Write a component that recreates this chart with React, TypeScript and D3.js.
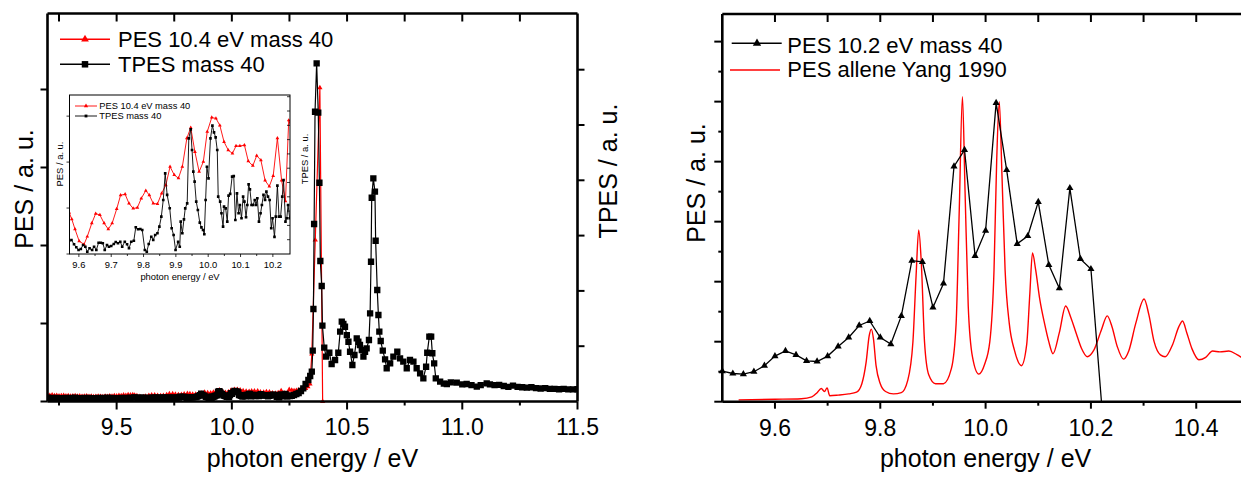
import React, { useEffect } from "react";
import * as d3 from "d3";

type Pt = [number, number];

// left panel: PES at 10.4 eV, mass 40 (red). values in inset units,
// the main axis is a wider window on the same numbers
const pes104: Pt[] = [
  [9.2, 0.9], [9.21, 0.7], [9.22, 0.8], [9.23, 0.6], [9.24, 0.7], [9.25, 0.5], [9.26, 0.6], [9.27, 0.7],
  [9.28, 0.5], [9.29, 0.6], [9.3, 0.4], [9.31, 0.5], [9.32, 0.6], [9.33, 0.4], [9.34, 0.5], [9.35, 0.3],
  [9.36, 0.4], [9.37, 0.5], [9.38, 0.3], [9.39, 0.4], [9.4, 0.2], [9.41, 0.3], [9.42, 0.4], [9.43, 0.3],
  [9.44, 0.2], [9.45, 0.4], [9.46, 0.3], [9.47, 0.5], [9.48, 0.4], [9.49, 0.6], [9.5, 0.5], [9.51, 0.7],
  [9.52, 0.6], [9.53, 0.8], [9.54, 0.7], [9.55, 0.9], [9.56, 0.8], [9.57, 0.9],
  [9.578, 0.76], [9.588, 0.54], [9.601, 0.28], [9.616, 0.21], [9.626, 0.38], [9.64, 0.67], [9.652, 0.88],
  [9.665, 0.85], [9.678, 0.67], [9.691, 0.54], [9.703, 0.67], [9.717, 0.98], [9.729, 1.28], [9.743, 1.3],
  [9.755, 1.1], [9.768, 0.99], [9.781, 1.01], [9.793, 1.21], [9.807, 1.38], [9.818, 1.28], [9.83, 1.1],
  [9.843, 1.09], [9.856, 1.32], [9.869, 1.5], [9.882, 1.9], [9.895, 1.72], [9.908, 1.65], [9.92, 1.9],
  [9.934, 2.52], [9.946, 2.75], [9.959, 2.22], [9.972, 1.79], [9.985, 2.01], [9.997, 2.66], [10.011, 2.97],
  [10.024, 2.95], [10.036, 2.8], [10.049, 2.44], [10.062, 2.26], [10.075, 2.19], [10.086, 2.35],
  [10.098, 2.35], [10.112, 2.37], [10.124, 2.02], [10.138, 1.92], [10.15, 2.14], [10.163, 2.04],
  [10.176, 1.6], [10.189, 1.47], [10.201, 1.7], [10.214, 2.52], [10.227, 1.6], [10.239, 1.15],
  [10.249, 2.91], [10.26, 2.7], [10.27, 2.5], [10.28, 2.6], [10.29, 2.8], [10.3, 3.0], [10.31, 3.0],
  [10.32, 3.4], [10.33, 4.0], [10.339, 5.1], [10.347, 16.6], [10.362, 60.3], [10.382, 118.6], [10.394, -1.63],
];

// left panel: TPES mass 40 (black), inset TPES units
const tpes40: Pt[] = [
  [9.2, 4.6], [9.22, 4.3], [9.24, 4.5], [9.26, 4.2], [9.28, 4.4], [9.3, 4.3], [9.32, 4.6], [9.34, 4.2],
  [9.36, 4.4], [9.38, 4.5], [9.4, 4.2], [9.42, 4.4], [9.44, 4.3], [9.46, 4.6], [9.48, 4.4], [9.5, 4.2],
  [9.52, 4.5], [9.54, 4.3], [9.56, 4.6],
  [9.577, 4.98], [9.585, 4.68], [9.592, 4.47], [9.599, 4.28], [9.606, 4.35], [9.613, 4.63], [9.62, 4.51],
  [9.626, 4.16], [9.633, 4.4], [9.641, 4.28], [9.647, 4.51], [9.654, 4.28], [9.661, 4.79], [9.668, 4.79],
  [9.674, 4.75], [9.68, 4.28], [9.687, 4.63], [9.693, 4.51], [9.7, 4.56], [9.708, 4.7], [9.714, 4.84],
  [9.721, 4.75], [9.728, 4.86], [9.734, 4.51], [9.742, 4.86], [9.749, 4.68], [9.755, 4.4], [9.762, 4.86],
  [9.77, 4.93], [9.776, 5.87], [9.783, 5.73], [9.79, 5.75], [9.796, 5.68], [9.804, 4.28], [9.81, 4.16],
  [9.816, 4.7], [9.824, 5.21], [9.83, 4.98], [9.836, 5.33], [9.843, 5.45], [9.849, 5.91], [9.855, 6.61],
  [9.861, 7.78], [9.867, 9.64], [9.873, 8.13], [9.881, 7.2], [9.887, 5.8], [9.893, 5.33], [9.899, 4.28],
  [9.907, 4.86], [9.912, 4.51], [9.915, 6.26], [9.92, 5.45], [9.925, 6.42], [9.929, 7.19], [9.935, 7.54],
  [9.94, 12.09], [9.946, 12.72], [9.95, 11.27], [9.954, 9.76], [9.958, 9.06], [9.963, 7.66], [9.968, 7.08],
  [9.974, 6.19], [9.979, 5.86], [9.984, 5.68], [9.988, 5.38], [9.992, 7.78], [9.996, 10.1], [10.001, 9.29],
  [10.007, 12.09], [10.013, 12.98], [10.018, 12.51], [10.023, 12.16], [10.028, 11.27], [10.031, 8.01],
  [10.037, 7.66], [10.041, 6.85], [10.046, 5.91], [10.049, 7.31], [10.054, 7.19], [10.059, 6.26],
  [10.063, 8.08], [10.068, 8.2], [10.074, 9.41], [10.079, 9.45], [10.084, 6.38], [10.089, 8.24],
  [10.094, 6.85], [10.098, 7.43], [10.103, 6.5], [10.108, 8.01], [10.112, 7.66], [10.117, 6.57],
  [10.121, 7.43], [10.125, 8.87], [10.129, 8.52], [10.134, 7.43], [10.139, 7.43], [10.144, 7.78],
  [10.148, 7.43], [10.152, 7.9], [10.157, 6.26], [10.162, 6.85], [10.166, 7.43], [10.171, 8.13],
  [10.176, 7.78], [10.18, 8.36], [10.185, 8.01], [10.19, 7.78], [10.195, 5.8], [10.199, 6.5], [10.205, 5.2],
  [10.209, 6.61], [10.214, 8.78], [10.219, 6.61], [10.224, 6.61], [10.229, 8.01], [10.233, 9.17],
  [10.239, 6.26], [10.243, 6.5], [10.247, 7.43], [10.252, 6.5],
  [10.26, 6.8], [10.27, 8.0], [10.28, 9.2], [10.29, 10.4], [10.3, 12.9], [10.31, 16.2], [10.32, 21.5],
  [10.332, 26.4], [10.34, 31.3], [10.347, 36.6], [10.351, 62.4], [10.354, 113.6], [10.357, 217.9],
  [10.361, 355.8], [10.368, 415.2], [10.375, 354.6], [10.38, 268.6], [10.384, 172.5], [10.39, 141.8],
  [10.393, 93.1], [10.401, 66.1], [10.409, 55.0], [10.423, 59.9], [10.433, 46.0], [10.448, 51.0],
  [10.462, 59.9], [10.47, 85.7], [10.477, 98.0], [10.484, 95.2], [10.491, 91.8], [10.499, 81.6],
  [10.506, 73.4], [10.513, 61.1], [10.523, 44.8], [10.532, 57.1], [10.542, 77.6], [10.549, 73.4],
  [10.556, 69.4], [10.564, 63.2], [10.571, 55.0], [10.578, 61.1], [10.585, 65.3], [10.595, 75.5],
  [10.6, 108.3], [10.604, 171.6], [10.607, 250.2], [10.614, 274.0], [10.621, 257.6], [10.624, 197.4],
  [10.631, 136.9], [10.636, 106.2], [10.64, 85.7], [10.646, 74.3], [10.655, 62.4], [10.665, 51.8],
  [10.672, 40.8], [10.687, 46.9], [10.701, 55.0], [10.718, 61.1], [10.73, 53.0], [10.744, 48.9],
  [10.759, 40.8], [10.773, 51.0], [10.788, 48.9], [10.802, 40.8], [10.817, 34.6], [10.831, 28.5],
  [10.843, 42.7], [10.848, 59.9], [10.857, 79.6], [10.865, 79.6], [10.87, 59.2], [10.878, 46.9],
  [10.885, 28.5], [10.904, 24.3], [10.92, 22.0], [10.933, 21.5], [10.95, 23.5], [10.976, 23.1],
  [11.0, 21.0], [11.019, 21.5], [11.04, 20.0], [11.063, 18.2], [11.08, 20.0], [11.106, 22.3],
  [11.12, 21.0], [11.14, 20.0], [11.16, 20.5], [11.18, 19.0], [11.2, 18.0], [11.22, 19.5], [11.24, 18.0],
  [11.26, 17.5], [11.28, 17.0], [11.3, 17.5], [11.32, 16.5], [11.34, 16.0], [11.36, 16.5], [11.38, 15.5],
  [11.4, 15.5], [11.42, 15.0], [11.44, 15.5], [11.46, 14.8], [11.48, 14.8], [11.5, 15.0],
];

// right panel: PES at 10.2 eV, mass 40 (black triangles)
const pes102: Pt[] = [
  [9.5, 0.51], [9.52, 0.47], [9.54, 0.46], [9.56, 0.5], [9.58, 0.6], [9.6, 0.76], [9.62, 0.845],
  [9.64, 0.78], [9.66, 0.68], [9.68, 0.67], [9.7, 0.76], [9.72, 0.92], [9.74, 1.07], [9.76, 1.27],
  [9.78, 1.345], [9.8, 1.07], [9.82, 0.96], [9.84, 1.43], [9.86, 2.35], [9.88, 2.33], [9.9, 1.57],
  [9.92, 1.97], [9.94, 3.92], [9.96, 4.195], [9.98, 2.43], [10.0, 2.85], [10.02, 4.98], [10.04, 3.86],
  [10.06, 2.63], [10.08, 2.76], [10.1, 3.33], [10.12, 2.28], [10.14, 1.89], [10.16, 3.56], [10.18, 2.38],
  [10.2, 2.21], [10.22, 0],
];

// right panel: PES of allene, Yang 1990 (red line)
const pesYang1990: Pt[] = [
  [9.531, 0.03], [9.6, 0.04], [9.65, 0.05], [9.67, 0.08], [9.68, 0.15], [9.688, 0.22], [9.694, 0.17],
  [9.699, 0.23], [9.704, 0.1], [9.72, 0.11], [9.74, 0.13], [9.755, 0.16], [9.765, 0.3], [9.773, 0.65],
  [9.779, 1.1], [9.783, 1.21], [9.787, 1.05], [9.792, 0.6], [9.8, 0.3], [9.81, 0.17], [9.825, 0.13],
  [9.84, 0.15], [9.852, 0.35], [9.862, 1.0], [9.868, 2.1], [9.873, 2.86], [9.878, 2.3], [9.884, 1.0],
  [9.892, 0.45], [9.905, 0.3], [9.92, 0.3], [9.935, 0.55], [9.944, 1.3], [9.95, 3.2], [9.956, 5.08],
  [9.961, 3.5], [9.967, 1.6], [9.975, 0.75], [9.987, 0.46], [9.998, 0.62], [10.008, 1.0], [10.016, 2.2],
  [10.021, 4.0], [10.026, 5.0], [10.031, 3.8], [10.037, 2.2], [10.045, 1.3], [10.055, 0.85], [10.068, 0.6],
  [10.078, 0.95], [10.084, 1.8], [10.089, 2.48], [10.095, 2.2], [10.103, 1.7], [10.112, 1.3], [10.12, 1.0],
  [10.128, 0.8], [10.14, 1.15], [10.152, 1.595], [10.162, 1.4], [10.172, 1.14], [10.182, 0.89],
  [10.193, 0.75], [10.205, 0.85], [10.22, 1.2], [10.231, 1.43], [10.24, 1.25], [10.25, 0.92], [10.262, 0.71],
  [10.272, 0.85], [10.285, 1.3], [10.301, 1.71], [10.31, 1.45], [10.32, 1.0], [10.332, 0.78], [10.341, 0.75],
  [10.355, 0.95], [10.367, 1.25], [10.374, 1.345], [10.382, 1.15], [10.392, 0.88], [10.405, 0.7],
  [10.418, 0.74], [10.431, 0.845], [10.445, 0.83], [10.462, 0.845], [10.478, 0.78], [10.49, 0.72], [10.5, 0.7],
];

const leftXTicks = [9.5, 10.0, 10.5, 11.0, 11.5];
const rightXTicks = [9.6, 9.8, 10.0, 10.2, 10.4];
const insetXTicks = [9.6, 9.7, 9.8, 9.9, 10.0, 10.1, 10.2];

const FONT = "'Liberation Sans', Arial, Helvetica, sans-serif";
const RED = "#ff0000";
const fmt = d3.format(".1f");

function Series({ data, x, y, color, symbol, size, width, clip, curve }: any) {
  const line = d3
    .line<Pt>()
    .x((d) => x(d[0]))
    .y((d) => y(d[1]))
    .curve(curve || d3.curveLinear);
  const sym = symbol ? d3.symbol().type(symbol).size(size)() : null;
  return (
    <g clipPath={clip}>
      <path d={line(data) || ""} fill="none" stroke={color} strokeWidth={width} strokeLinejoin="round" />
      {sym &&
        data.map((d: Pt, i: number) => (
          <path key={i} d={sym} transform={`translate(${x(d[0])},${y(d[1])})`} fill={color} />
        ))}
    </g>
  );
}

export default function App() {
  useEffect(() => {
    document.body.style.margin = "0";
  }, []);

  // left panel
  const L = { x0: 47.5, x1: 577.5, y0: 13.5, y1: 401.5 };
  const xL = d3.scaleLinear().domain([9.2, 11.5]).range([L.x0, L.x1]);
  const yPes = d3.scaleLinear().domain([-1.63, 147.1]).range([L.y1, L.y0]);
  const yTpes = d3.scaleLinear().domain([0, 476.4]).range([L.y1, L.y0]);
  const pesTicks = d3.range(5).map((k) => -1.63 + 29.9 * k);
  const tpesTicks = d3.range(1, 7).map((k) => 67.9 * k);

  // inset
  const I = { x0: 69.5, x1: 290, y0: 95, y1: 254 };
  const xI = d3.scaleLinear().domain([9.571, 10.253]).range([I.x0, I.x1]);
  const yIPes = d3.scaleLinear().domain([0, 3.46]).range([I.y1, I.y0]);
  const yITpes = d3.scaleLinear().domain([4.0, 15.12]).range([I.y1, I.y0]);
  const insetPes = pes104.filter((d) => d[0] > 9.55 && d[0] < 10.27);
  const insetTpes = tpes40.filter((d) => d[0] > 9.55 && d[0] < 10.27);

  // right panel
  const R = { x0: 722.3, x1: 1248.9, y0: 14, y1: 401.7 };
  const xR = d3.scaleLinear().domain([9.5, 10.5]).range([R.x0, R.x1]);
  const yR = d3.scaleLinear().domain([0, 6.46]).range([R.y1, R.y0]);

  const ax = { stroke: "#000", strokeWidth: 2.6 };
  const tk = { stroke: "#000", strokeWidth: 2 };

  return (
    <svg
      width={1241}
      height={479}
      style={{ position: "absolute", left: 0, top: 0, background: "#fff" }}
      fontFamily={FONT}
    >
      <defs>
        <clipPath id="clipL">
          <rect x={L.x0} y={L.y0 - 6} width={L.x1 - L.x0} height={L.y1 - L.y0 + 10} />
        </clipPath>
        <clipPath id="clipI">
          <rect x={I.x0} y={I.y0} width={I.x1 - I.x0} height={I.y1 - I.y0} />
        </clipPath>
        <clipPath id="clipR">
          <rect x={R.x0 - 5} y={R.y0} width={R.x1 - R.x0 + 5} height={R.y1 - R.y0} />
        </clipPath>
      </defs>
      <rect width={1241} height={479} fill="#fff" />

      {/* ---------- left panel ---------- */}
      <Series data={pes104} x={xL} y={yPes} color={RED} symbol={d3.symbolTriangle} size={12} width={1.2} clip="url(#clipL)" />
      <Series data={tpes40} x={xL} y={yTpes} color="#000" symbol={d3.symbolSquare} size={40} width={1.2} clip="url(#clipL)" />

      <line x1={L.x0} x2={L.x0} y1={L.y0} y2={L.y1} {...ax} />
      <line x1={L.x1} x2={L.x1} y1={L.y0} y2={L.y1} {...ax} />
      <line x1={L.x0} x2={L.x1} y1={L.y0} y2={L.y0} {...ax} />
      <line x1={L.x0} x2={L.x1} y1={L.y1} y2={L.y1} {...ax} />
      {leftXTicks.map((t) => (
        <g key={t}>
          <line x1={xL(t)} x2={xL(t)} y1={L.y1} y2={L.y1 + 8} {...tk} />
          <text x={xL(t)} y={435} fontSize={23} textAnchor="middle">{fmt(t)}</text>
        </g>
      ))}
      {d3.range(9.25, 11.5, 0.5).map((t) => (
        <line key={t} x1={xL(t)} x2={xL(t)} y1={L.y1} y2={L.y1 + 4} {...tk} />
      ))}
      {d3.range(9.25, 11.3, 0.25).map((t) => (
        <line key={t} x1={xL(t)} x2={xL(t)} y1={L.y0} y2={L.y0 + 8} {...tk} />
      ))}
      {pesTicks.map((t) => (
        <line key={t} x1={L.x0 - 7} x2={L.x0} y1={yPes(t)} y2={yPes(t)} {...tk} />
      ))}
      {tpesTicks.map((t) => (
        <line key={t} x1={L.x1} x2={L.x1 + 7} y1={yTpes(t)} y2={yTpes(t)} {...tk} />
      ))}
      <text x={312.5} y={467} fontSize={25} textAnchor="middle">photon energy / eV</text>
      <text transform="translate(33,189) rotate(-90)" fontSize={25} textAnchor="middle">PES / a. u.</text>
      <text transform="translate(617,171) rotate(-90)" fontSize={25} textAnchor="middle">TPES / a. u.</text>

      {/* legend */}
      <line x1={60} x2={110} y1={39.3} y2={39.3} stroke={RED} strokeWidth={1.5} />
      <path d={d3.symbol().type(d3.symbolTriangle).size(26)() || ""} transform="translate(85,39.3)" fill={RED} />
      <text x={118} y={46.7} fontSize={22}>PES 10.4 eV mass 40</text>
      <line x1={60} x2={110} y1={64.3} y2={64.3} stroke="#000" strokeWidth={1.5} />
      <path d={d3.symbol().type(d3.symbolSquare).size(42)() || ""} transform="translate(85,64.3)" fill="#000" />
      <text x={118} y={71.7} fontSize={22}>TPES mass 40</text>

      {/* ---------- inset ---------- */}
      <rect x={I.x0} y={I.y0} width={I.x1 - I.x0} height={I.y1 - I.y0} fill="#fff" />
      <Series data={insetPes} x={xI} y={yIPes} color={RED} symbol={d3.symbolTriangle} size={6} width={0.9} clip="url(#clipI)" />
      <Series data={insetTpes} x={xI} y={yITpes} color="#000" symbol={d3.symbolSquare} size={7} width={0.9} clip="url(#clipI)" />
      <rect x={I.x0} y={I.y0} width={I.x1 - I.x0} height={I.y1 - I.y0} fill="none" stroke="#000" strokeWidth={1} />
      {insetXTicks.map((t) => (
        <g key={t}>
          <line x1={xI(t)} x2={xI(t)} y1={I.y1} y2={I.y1 + 3} stroke="#000" strokeWidth={0.8} />
          <text x={xI(t)} y={268} fontSize={9.4} textAnchor="middle">{fmt(t)}</text>
        </g>
      ))}
      {d3.range(9.65, 10.25, 0.1).map((t) => (
        <line key={t} x1={xI(t)} x2={xI(t)} y1={I.y1} y2={I.y1 + 2} stroke="#000" strokeWidth={0.8} />
      ))}
      {[0, 1, 2, 3].map((t) => (
        <line key={t} x1={I.x0 - 3} x2={I.x0} y1={yIPes(t)} y2={yIPes(t)} stroke="#000" strokeWidth={0.8} />
      ))}
      {d3.range(5, 16).map((t) => (
        <line key={t} x1={I.x1 - 3} x2={I.x1} y1={yITpes(t)} y2={yITpes(t)} stroke="#000" strokeWidth={0.8} />
      ))}
      <text x={180} y={280} fontSize={9.4} textAnchor="middle">photon energy / eV</text>
      <text transform="translate(63,164) rotate(-90)" fontSize={9.4} textAnchor="middle">PES / a. u.</text>
      <text transform="translate(308,159) rotate(-90)" fontSize={9.4} textAnchor="middle">TPES / a. u.</text>
      <line x1={75} x2={97} y1={106} y2={106} stroke={RED} strokeWidth={0.9} />
      <path d={d3.symbol().type(d3.symbolTriangle).size(8)() || ""} transform="translate(86,106)" fill={RED} />
      <text x={99.3} y={109.3} fontSize={9.3}>PES 10.4 eV mass 40</text>
      <line x1={75} x2={97} y1={116} y2={116} stroke="#000" strokeWidth={0.9} />
      <path d={d3.symbol().type(d3.symbolSquare).size(8)() || ""} transform="translate(86,116)" fill="#000" />
      <text x={99.3} y={119.3} fontSize={9.3}>TPES mass 40</text>

      {/* ---------- right panel ---------- */}
      <Series data={pesYang1990} x={xR} y={yR} color={RED} width={1.4} clip="url(#clipR)" curve={d3.curveMonotoneX} />
      <g clipPath="url(#clipR)">
        <path
          d={d3.line<Pt>().x((d) => xR(d[0])).y((d) => yR(d[1]))(pes102) || ""}
          fill="none"
          stroke="#000"
          strokeWidth={1.3}
        />
        {pes102
          .filter((d) => d[1] > 0)
          .map((d, i) => (
            <path
              key={i}
              d={d3.symbol().type(d3.symbolTriangle).size(22)() || ""}
              transform={`translate(${xR(d[0])},${yR(d[1])})`}
              fill="#000"
            />
          ))}
      </g>
      <line x1={R.x0} x2={R.x0} y1={R.y0} y2={R.y1} {...ax} />
      <line x1={R.x0} x2={R.x1} y1={R.y0} y2={R.y0} {...ax} />
      <line x1={R.x0} x2={R.x1} y1={R.y1} y2={R.y1} {...ax} />
      <line x1={R.x1} x2={R.x1} y1={R.y0} y2={R.y1} {...ax} />
      {rightXTicks.map((t) => (
        <g key={t}>
          <line x1={xR(t)} x2={xR(t)} y1={R.y1} y2={R.y1 + 7} {...tk} />
          <text x={xR(t)} y={436} fontSize={23} textAnchor="middle">{fmt(t)}</text>
        </g>
      ))}
      {d3.range(9.7, 10.5, 0.2).map((t) => (
        <line key={t} x1={xR(t)} x2={xR(t)} y1={R.y1} y2={R.y1 + 4} {...tk} />
      ))}
      {d3.range(9.6, 10.45, 0.1).map((t) => (
        <line key={t} x1={xR(t)} x2={xR(t)} y1={R.y0} y2={R.y0 + 8} {...tk} />
      ))}
      {d3.range(0, 6.5, 0.5).map((t) => (
        <line key={t} x1={R.x0 - (t % 1 === 0 ? 8 : 4)} x2={R.x0} y1={yR(t)} y2={yR(t)} {...tk} />
      ))}
      <text x={985.6} y={467} fontSize={25} textAnchor="middle">photon energy / eV</text>
      <text transform="translate(705,183) rotate(-90)" fontSize={25} textAnchor="middle">PES / a. u.</text>

      <line x1={731.7} x2={781.7} y1={43.3} y2={43.3} stroke="#000" strokeWidth={1.5} />
      <path d={d3.symbol().type(d3.symbolTriangle).size(30)() || ""} transform="translate(757,43.3)" fill="#000" />
      <text x={787.3} y={52.5} fontSize={22}>PES 10.2 eV mass 40</text>
      <line x1={730} x2={780} y1={70} y2={70} stroke={RED} strokeWidth={1.5} />
      <text x={787.3} y={77.3} fontSize={22}>PES allene Yang 1990</text>
    </svg>
  );
}
